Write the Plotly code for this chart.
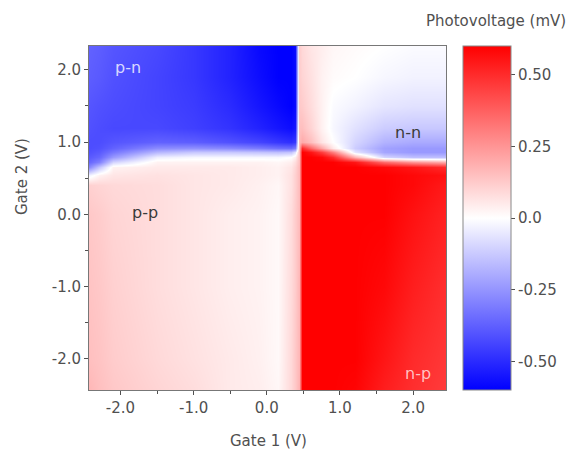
import plotly.graph_objects as go

# Gate voltages (V) of the sampled grid
gate1 = [-2.43, -2.3, -2.1, -1.5, -1.0, -0.5, -0.1, 0.15, 0.33, 0.39, 0.44,
         0.48, 0.6, 0.75, 0.9, 1.2, 1.6, 2.0, 2.45]
gate2 = [-2.43, -2.0, -1.0, 0.0, 0.4, 0.55, 0.65, 0.72, 0.8, 0.86, 0.92,
         1.0, 1.2, 1.5, 1.9, 2.33]

# Photovoltage (mV), one row per gate2 value (bottom to top)
pv_m243 = [0.17, 0.15, 0.13, 0.10, 0.08, 0.05, 0.04, 0.02, 0.09, 0.13, 0.18, 0.6, 0.6, 0.6, 0.6, 0.59, 0.53, 0.49, 0.46]
pv_m200 = [0.15, 0.14, 0.12, 0.09, 0.07, 0.05, 0.035, 0.015, 0.09, 0.13, 0.17, 0.6, 0.6, 0.6, 0.6, 0.6, 0.55, 0.50, 0.47]
pv_m100 = [0.14, 0.13, 0.11, 0.08, 0.06, 0.04, 0.03, 0.015, 0.085, 0.12, 0.17, 0.6, 0.6, 0.6, 0.6, 0.6, 0.58, 0.53, 0.49]
pv_000 = [0.13, 0.12, 0.10, 0.08, 0.06, 0.04, 0.03, 0.015, 0.08, 0.12, 0.16, 0.6, 0.6, 0.6, 0.6, 0.6, 0.6, 0.56, 0.52]
pv_040 = [0.11, 0.10, 0.09, 0.08, 0.06, 0.05, 0.035, 0.02, 0.07, 0.11, 0.16, 0.6, 0.6, 0.6, 0.6, 0.6, 0.6, 0.58, 0.54]
pv_055 = [-0.03, 0.03, 0.06, 0.07, 0.06, 0.05, 0.04, 0.03, 0.07, 0.11, 0.16, 0.6, 0.6, 0.6, 0.6, 0.6, 0.6, 0.58, 0.56]
pv_065 = [-0.28, -0.14, 0.03, 0.05, 0.05, 0.05, 0.04, 0.03, 0.06, 0.10, 0.16, 0.6, 0.6, 0.6, 0.6, 0.6, 0.58, 0.55, 0.50]
pv_072 = [-0.36, -0.30, -0.10, 0.03, 0.03, 0.03, 0.03, 0.02, 0.04, 0.08, 0.15, 0.6, 0.6, 0.6, 0.6, 0.55, 0.35, 0.25, 0.20]
pv_080 = [-0.39, -0.36, -0.24, -0.04, -0.02, -0.02, -0.02, -0.02, 0.0, 0.04, 0.15, 0.6, 0.6, 0.58, 0.5, 0.18, -0.10, -0.15, -0.15]
pv_086 = [-0.41, -0.39, -0.32, -0.17, -0.13, -0.13, -0.14, -0.15, -0.14, -0.07, 0.15, 0.6, 0.55, 0.45, 0.3, -0.06, -0.21, -0.24, -0.24]
pv_092 = [-0.42, -0.41, -0.37, -0.27, -0.26, -0.28, -0.31, -0.34, -0.35, -0.31, 0.15, 0.5, 0.35, 0.2, 0.05, -0.12, -0.22, -0.24, -0.24]
pv_100 = [-0.42, -0.42, -0.40, -0.37, -0.38, -0.41, -0.44, -0.47, -0.49, -0.47, 0.16, 0.2, 0.15, 0.06, 0.0, -0.10, -0.18, -0.20, -0.20]
pv_120 = [-0.41, -0.42, -0.43, -0.43, -0.45, -0.48, -0.52, -0.55, -0.57, -0.55, 0.15, 0.15, 0.10, 0.03, -0.02, -0.07, -0.12, -0.13, -0.13]
pv_150 = [-0.40, -0.41, -0.42, -0.44, -0.46, -0.50, -0.55, -0.58, -0.60, -0.58, 0.13, 0.12, 0.08, 0.03, -0.01, -0.03, -0.06, -0.07, -0.07]
pv_190 = [-0.38, -0.39, -0.41, -0.44, -0.47, -0.52, -0.57, -0.60, -0.60, -0.58, 0.12, 0.10, 0.07, 0.03, 0.01, 0.0, -0.02, -0.03, -0.03]
pv_233 = [-0.37, -0.38, -0.40, -0.43, -0.47, -0.52, -0.58, -0.60, -0.60, -0.58, 0.12, 0.09, 0.06, 0.04, 0.02, 0.01, 0.0, -0.01, -0.01]

photovoltage = [pv_m243, pv_m200, pv_m100, pv_000, pv_040, pv_055, pv_065, pv_072,
                pv_080, pv_086, pv_092, pv_100, pv_120, pv_150, pv_190, pv_233]

axis_vals = [-2, -1, 0, 1, 2]
axis_text = ["-2.0", "-1.0", "0.0", "1.0", "2.0"]
minor_vals = [-2.5, -1.5, -0.5, 0.5, 1.5, 2.5]
cbar_vals = [-0.5, -0.25, 0.0, 0.25, 0.5]
cbar_text = ["-0.50", "-0.25", "0.0", "0.25", "0.50"]

regions = ["p-n", "n-n", "p-p", "n-p"]
region_g1 = [-1.9, 1.93, -1.66, 2.07]
region_g2 = [2.03, 1.13, 0.03, -2.2]
region_col = ["rgba(225,225,255,0.95)", "#3a3a3a", "#3a3a3a", "rgba(255,205,205,0.95)"]

FONT = "DejaVu Sans"
GREY = "#505050"

fig = go.Figure()
fig.add_trace(go.Heatmap(
    x=gate1, y=gate2, z=photovoltage,
    zsmooth="best", zmin=-0.6, zmax=0.6,
    colorscale=[[0, "rgb(0,0,255)"], [0.5, "rgb(255,255,255)"], [1, "rgb(255,0,0)"]],
    colorbar=dict(
        x=1.0476, xanchor="left", y=0.5, yanchor="middle",
        len=1.0, thickness=48, xpad=0, ypad=0,
        outlinewidth=1, outlinecolor="#888888",
        tickmode="array", tickvals=cbar_vals, ticktext=cbar_text,
        ticks="outside", ticklen=4, tickcolor=GREY,
        tickfont=dict(family=FONT, size=15, color=GREY),
    ),
))

for t, gx, gy, c in zip(regions, region_g1, region_g2, region_col):
    fig.add_annotation(x=gx, y=gy, text=t, showarrow=False,
                       font=dict(family=FONT, size=16, color=c))

fig.add_annotation(x=(496 - 89) / 357, y=(390 - 21) / 344, xref="paper", yref="paper",
                   xanchor="center", yanchor="middle",
                   text="Photovoltage (mV)", showarrow=False,
                   font=dict(family=FONT, size=15, color=GREY))
fig.add_annotation(x=(22 - 89) / 357, y=(390 - 177) / 344, xref="paper", yref="paper",
                   xanchor="center", yanchor="middle",
                   text="Gate 2 (V)", showarrow=False, textangle=-90,
                   font=dict(family=FONT, size=15, color=GREY))
fig.add_annotation(x=(268 - 89) / 357, y=(390 - 441) / 344, xref="paper", yref="paper",
                   xanchor="center", yanchor="middle",
                   text="Gate 1 (V)", showarrow=False,
                   font=dict(family=FONT, size=15, color=GREY))

fig.update_layout(
    width=582, height=453,
    margin=dict(l=89, r=136, t=46, b=63),
    paper_bgcolor="white", plot_bgcolor="white",
    font=dict(family=FONT, size=15, color=GREY),
    showlegend=False,
)

common = dict(
    tickmode="array", tickvals=axis_vals, ticktext=axis_text,
    ticks="outside", ticklen=4, tickcolor=GREY,
    minor=dict(tickmode="array", tickvals=minor_vals, ticks="outside", ticklen=3, tickcolor=GREY),
    showline=True, linecolor="#777777", linewidth=1, mirror=True,
    showgrid=False, zeroline=False,
    tickfont=dict(family=FONT, size=15, color=GREY),
)
fig.update_xaxes(range=[-2.43, 2.45], **common)
fig.update_yaxes(range=[-2.43, 2.33], **common)

fig.write_html("out.html", config={"displayModeBar": False},
               post_script="document.body.style.margin='0';")
